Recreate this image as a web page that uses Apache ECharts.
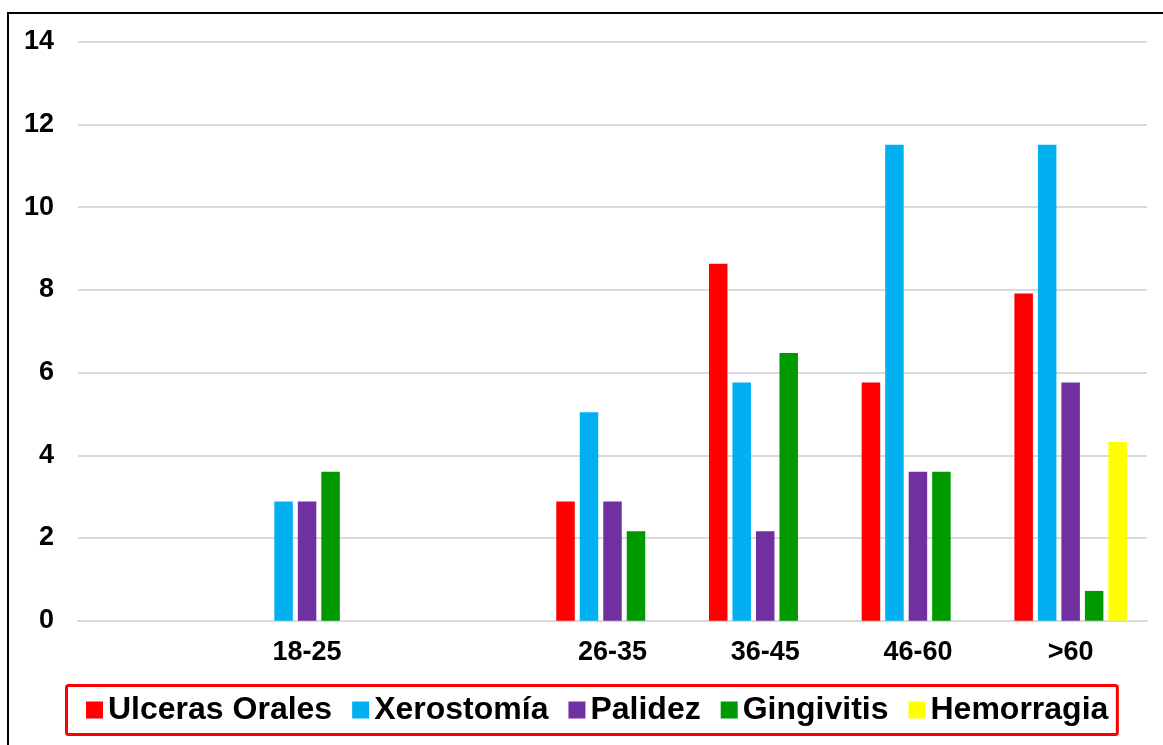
<!DOCTYPE html>
<html>
<head>
<meta charset="utf-8">
<script src="https://cdn.jsdelivr.net/npm/echarts@6/dist/echarts.min.js"></script>
<style>
  html, body { margin: 0; padding: 0; background: #ffffff; }
  #chart { width: 1163px; height: 745px; }
</style>
</head>
<body>
<div id="chart"></div>
<script>
// Age groups (blank slots keep the spacing of the original layout)
const categories = ['', '18-25', ' ', '26-35', '36-45', '46-60', '>60'];

// Percentage of patients per oral sign and age group
const ulcerasOrales = [null, null, null, 2.88, 8.63, 5.76, 7.91];
const xerostomia    = [null, 2.88, null, 5.04, 5.76, 11.51, 11.51];
const palidez       = [null, 2.88, null, 2.88, 2.16, 3.60, 5.76];
const gingivitis    = [null, 3.60, null, 2.16, 6.47, 3.60, 0.72];
const hemorragia    = [null, null, null, null, null, null, 4.32];

const seriesNames  = ['Ulceras Orales', 'Xerostomía', 'Palidez', 'Gingivitis', 'Hemorragia'];
const seriesValues = [ulcerasOrales, xerostomia, palidez, gingivitis, hemorragia];
const seriesColors = ['#FF0000', '#00B0F0', '#7030A0', '#009900', '#FFFF00'];

const FONT = '"Liberation Sans", Arial, sans-serif';

const chart = echarts.init(document.getElementById('chart'), null, { renderer: 'canvas' });

chart.setOption({
  backgroundColor: '#ffffff',
  animation: false,
  graphic: [{
    type: 'rect',
    silent: true,
    shape: { x: 8, y: 13, width: 1200, height: 800 },
    style: { fill: 'none', stroke: '#000000', lineWidth: 2 },
    z: 100
  }],
  grid: { left: 78, right: 16, top: 41.7, bottom: 124.3, containLabel: false },
  legend: {
    data: seriesNames,
    left: 66.5,
    top: 685.5,
    padding: [8.5, 9, 8.5, 19.5],
    borderColor: '#FF0000',
    borderWidth: 3,
    borderRadius: 2,
    itemWidth: 17,
    itemHeight: 17,
    itemGap: 20,
    icon: 'rect',
    textStyle: { fontFamily: FONT, fontSize: 32, fontWeight: 'bold', color: '#000000' }
  },
  xAxis: {
    type: 'category',
    data: categories,
    axisTick: { show: false },
    axisLine: { show: true, lineStyle: { color: '#d9d9d9', width: 2 } },
    axisLabel: {
      interval: 0,
      margin: 18,
      fontFamily: FONT, fontSize: 27, fontWeight: 'bold', color: '#000000'
    }
  },
  yAxis: {
    type: 'value',
    min: 0,
    max: 14,
    interval: 2,
    axisLine: { show: false },
    axisTick: { show: false },
    splitLine: { show: true, lineStyle: { color: '#d9d9d9', width: 2 } },
    axisLabel: {
      margin: 24,
      fontFamily: FONT, fontSize: 27, fontWeight: 'bold', color: '#000000'
    }
  },
  series: seriesNames.map((name, i) => ({
    name: name,
    type: 'bar',
    data: seriesValues[i],
    barWidth: 18.5,
    barGap: '27%',
    itemStyle: { color: seriesColors[i] }
  }))
});
</script>
</body>
</html>
